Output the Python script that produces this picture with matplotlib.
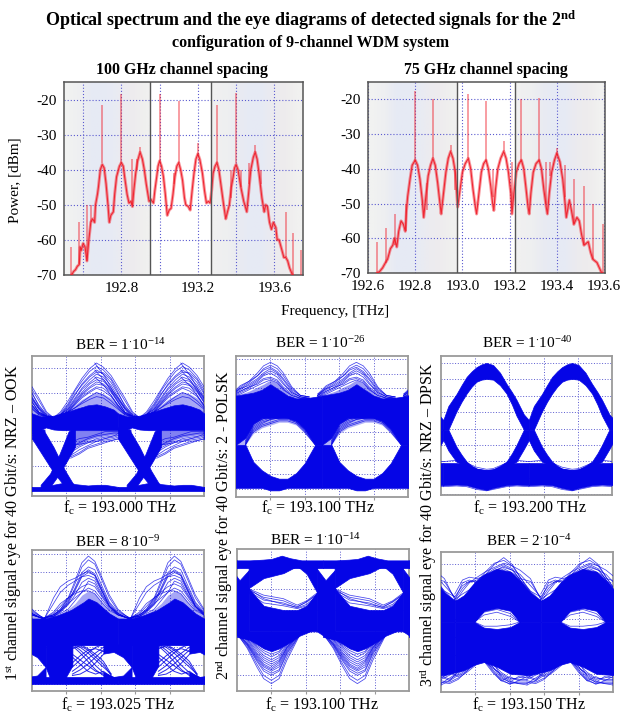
import numpy as np
import matplotlib
matplotlib.use('Agg')
import matplotlib.pyplot as plt
from matplotlib.colors import to_rgb

plt.rcParams['font.family'] = ['Liberation Serif', 'DejaVu Serif']
plt.rcParams['mathtext.fontset'] = 'custom'
plt.rcParams['mathtext.rm'] = 'Liberation Serif'
plt.rcParams['mathtext.it'] = 'Liberation Serif:italic'
plt.rcParams['mathtext.bf'] = 'Liberation Serif:bold'
plt.rcParams['axes.unicode_minus'] = False

RED = '#f01c28'
BLUE = '#0505e6'
GRID = '#5a5ad0'
EDGE = '#9a9a9a'

# ---- spectra, 100 GHz spacing
SPEC1_F = [192.54, 192.55, 192.56, 192.57, 192.58, 192.585, 192.59, 192.6, 192.61, 192.62, 192.63, 192.64,
           192.65, 192.66, 192.665, 192.675, 192.68, 192.69, 192.7, 192.71, 192.72, 192.73, 192.737, 192.745,
           192.758, 192.765, 192.775, 192.79, 192.8, 192.81, 192.817, 192.83, 192.84, 192.85, 192.858, 192.865,
           192.875, 192.885, 192.898, 192.91, 192.92, 192.93, 192.945, 192.955, 192.968, 192.975, 192.985, 192.992,
           193.0, 193.01, 193.02, 193.03, 193.04, 193.05, 193.06, 193.07, 193.08, 193.09, 193.1, 193.11,
           193.12, 193.13, 193.137, 193.15, 193.16, 193.17, 193.18, 193.19, 193.2, 193.21, 193.224, 193.235,
           193.245, 193.255, 193.264, 193.272, 193.28, 193.29, 193.3, 193.31, 193.32, 193.335, 193.346, 193.355,
           193.365, 193.375, 193.385, 193.392, 193.4, 193.41, 193.425, 193.44, 193.456, 193.465, 193.477, 193.49,
           193.5, 193.51, 193.52, 193.535, 193.547, 193.555, 193.564, 193.575, 193.585, 193.595, 193.608, 193.615,
           193.625, 193.64, 193.65, 193.66, 193.67, 193.68, 193.695]
SPEC1_P = [-70, -69, -68.5, -67.5, -67, -62, -63, -61, -62, -66, -60, -55,
           -54, -55, -50, -47, -45, -40, -38.5, -39.5, -44, -50, -55, -53,
           -52, -47, -42, -39, -38, -39, -42, -47, -49.5, -49, -50.5, -46,
           -41, -37.5, -35, -37, -40, -44, -49, -48.5, -49.5, -46, -42, -39,
           -37.5, -39, -42, -47, -53, -51.5, -51, -47, -42, -39, -38, -40,
           -43, -48, -50, -50.5, -51.5, -46, -41, -37, -35.5, -37, -41, -46,
           -49.5, -49, -49.5, -46, -41, -39, -38, -40, -44, -50, -54, -52,
           -50, -45, -42, -39.5, -38.5, -40, -45, -49, -52, -47, -40, -36.5,
           -35, -37, -41, -48, -52, -50, -50.5, -55, -57, -55, -56.5, -60,
           -60, -63, -65, -65, -66, -68, -70]
SPIKE1_F = [192.538, 192.58, 192.618, 192.643, 192.7, 192.8, 192.858, 192.884, 192.9, 193.0, 193.076, 193.1,
            193.2, 193.3, 193.372, 193.4, 193.425, 193.468, 193.5, 193.53, 193.66, 193.7, 193.74]
SPIKE1_TOP = [-62, -55, -50, -50, -21.5, -18.5, -37, -37, -33.5, -18.5, -41, -20.5,
              -32.5, -21.5, -40, -18, -40, -38, -33, -40, -52, -58, -63]
SPIKE1_BASE = [-70, -67, -66, -55, -38, -38, -50, -40, -35, -38, -44, -38,
               -36, -38, -48, -38, -45, -44, -35, -44, -65, -70, -70]

# ---- spectra, 75 GHz spacing
SPEC2_F = [192.64, 192.65, 192.662, 192.67, 192.683, 192.695, 192.705, 192.712, 192.722, 192.73, 192.74, 192.75,
           192.758, 192.763, 192.768, 192.778, 192.787, 192.8, 192.81, 192.82, 192.83, 192.836, 192.845, 192.855,
           192.865, 192.875, 192.885, 192.895, 192.905, 192.91, 192.92, 192.93, 192.94, 192.95, 192.96, 192.97,
           192.98, 192.99, 193.0, 193.012, 193.025, 193.035, 193.045, 193.055, 193.06, 193.07, 193.08, 193.09,
           193.1, 193.11, 193.12, 193.128, 193.133, 193.14, 193.15, 193.162, 193.175, 193.185, 193.195, 193.205,
           193.21, 193.218, 193.228, 193.24, 193.25, 193.26, 193.27, 193.278, 193.283, 193.29, 193.3, 193.312,
           193.325, 193.335, 193.345, 193.355, 193.36, 193.368, 193.378, 193.39, 193.4, 193.413, 193.425, 193.435,
           193.44, 193.453, 193.462, 193.472, 193.485, 193.495, 193.505, 193.515, 193.533, 193.543, 193.552, 193.57,
           193.58, 193.59]
SPEC2_P = [-70, -69.5, -68.5, -67.5, -66, -63, -62, -60, -62.5, -58, -55, -56,
           -58, -52, -48, -43, -39, -37.5, -39, -43, -49, -54, -48, -42,
           -39, -37, -39, -44, -50, -53, -47, -41, -37, -35, -37, -41,
           -51, -46, -41, -38.5, -37, -40, -46, -51, -53, -47, -41, -38.5,
           -37.5, -40, -45, -50, -52, -46, -40, -37, -35, -37, -41, -47,
           -53, -47, -41, -38.5, -37.5, -40, -46, -51, -53, -47, -41, -38.5,
           -37.5, -40, -46, -51, -53, -47, -41, -37.5, -35.5, -38, -43, -50,
           -54, -49, -52, -56, -54, -55, -59, -62, -61, -64, -66, -67,
           -68.5, -70]
SPIKE2_F = [192.637, 192.676, 192.716, 192.76, 192.8, 192.85, 192.875, 192.95, 192.97, 193.025, 193.1, 193.13,
            193.175, 193.208, 193.25, 193.325, 193.356, 193.373, 193.4, 193.434, 193.472, 193.515, 193.555, 193.597]
SPIKE2_TOP = [-61, -57, -53, -50, -17.5, -44, -20, -33, -40, -18.5, -20.5, -40,
              -32, -38, -20, -19.5, -38, -38, -34, -39, -43, -45, -50, -56]
SPIKE2_BASE = [-70, -67, -62, -58, -38, -52, -37, -35, -46, -37, -38, -48,
               -35, -50, -38, -38, -50, -42, -36, -48, -56, -62, -66, -70]

BAND_LEFT = ['#f1f2f1', '#eeeff1', '#e7eaf4', '#e6eaf5', '#e8ebf4', '#ecebf0', '#eeecee', '#f0f0ef']
BAND_RIGHT = ['#f0f0f0', '#eeeff0', '#e9ebf2', '#e6eaf5', '#e7eaf4', '#ecebef', '#eeeced', '#f1f1f0']

SPEC1_X_TICKS = [192.6, 192.8, 193.0, 193.2, 193.4, 193.6]
SPEC1_X_LABELS = ['', '192.8', '', '193.2', '', '193.6']
SPEC2_X_TICKS = [192.6, 192.8, 193.0, 193.2, 193.4, 193.6]
SPEC2_X_LABELS = ['192.6', '192.8', '193.0', '193.2', '193.4', '193.6']
POWER_TICKS = [-20, -30, -40, -50, -60, -70]

# ---- eye 1, 193.000 THz
P1_RAIL_T = [0, .1, .2, .33, .42, .5, .65, .75, .85, 1]
P1_RAIL_LO = [3.5, 3.5, 3.5, 3.5, 3.5, 3.5, 3.5, 3.5, 3.5, 3.5]
P1_RAIL_HI = [6.5, 6.5, 7.5, 9, 10, 8.5, 7.5, 8, 8, 6.5]
P1_MID_T = [0, .1, .16, .25, .35, .45, .55, .65, .75, .85, .95, 1]
P1_MID_LO = [47, 47, 49, 47.5, 47, 47, 47, 47, 47, 47, 47, 47]
P1_MID_HI = [59, 57, 57, 57, 59, 61, 63, 64.8, 65.5, 64, 61.7, 59]
P1_FALL_T = [0, .135, .25, .386, .5]
P1_FALL_LO = [41, 28, 17, 6.4, 6.4]
P1_FALL_HI = [49, 47, 35, 18, 6.4]
P1_RISE_T = [.1, .21, .32, .425, .5]
P1_RISE_LO = [4, 6.5, 16, 27, 35]
P1_RISE_HI = [8, 16, 30, 46, 50]
P1_LOW_T = [.45, .55, .65, .75, .85, .95, 1.05, 1.15]
P1_LOW_LO = [35, 37, 40, 42, 43, 44, 45, 46]
P1_LOW_HI = [47, 47, 47, 47, 47, 47, 47, 47]
P1_LOW_TRACES = [[27, 30, 34, 36, 38, 40, 41, 44.5],
                 [28, 31, 35, 37, 39, 40, 42, 45],
                 [29, 33, 36, 39, 40, 41, 43, 45],
                 [31, 35, 38, 41, 42, 43, 44, 47],
                 [33, 36, 39, 40, 41, 42, 44, 46],
                 [35, 38, 41, 43, 44, 45, 45, 46],
                 [36, 37, 38, 39, 41, 43, 46, 47],
                 [38, 41, 42, 44, 46, 46, 46, 47]]
P1_HUMP_T = [.25, .33, .42, .5, .58, .67, .75, .83, .92, 1.0, 1.08, 1.17, 1.25]
P1_HUMP_LO = [57, 59, 60, 62, 64, 65, 65.5, 64, 62, 59, 57.6, 57, 57]
P1_HUMP_HI = [56, 58, 61, 65, 69, 72, 74, 73, 70, 65, 60, 57, 56]
P1_HUMP_TRACES = [[56, 60, 68, 76, 84, 91, 95, 92, 86, 78, 70, 60, 56],
                  [56, 59, 66, 75, 82, 89, 92.5, 90, 84, 76, 68, 59, 56],
                  [56, 58, 64, 72, 80, 86, 90, 87, 81, 73, 65, 58, 56],
                  [56, 58, 65, 73, 79, 85, 88.5, 88, 83, 74, 64, 58, 56],
                  [56, 58, 63, 70, 77, 83, 87, 85, 79, 71, 63, 57, 56],
                  [56, 58, 62, 69, 76, 81, 85, 83, 77, 70, 63, 57, 56],
                  [56, 58, 62, 68, 74, 80, 83, 82, 76, 69, 62, 57, 56],
                  [56, 57, 61, 67, 73, 78, 81.5, 80, 75, 68, 60, 57, 56],
                  [56, 57, 61, 66, 72, 77, 80, 79, 74, 67, 60, 57, 56],
                  [56, 57, 60, 66, 71, 75, 78, 77, 72, 65, 59, 57, 56],
                  [56, 57, 60, 65, 70, 74, 77, 75, 71, 65, 59, 57, 56],
                  [56, 57, 60, 63, 67, 71, 74, 72, 68, 63, 58, 57, 56],
                  [57, 58, 60, 63, 66, 69, 71, 70, 66, 62, 58, 57, 56]]
P1_TAIL_T = [-.27, -.15, -.05, 0, .08, .15]
P1_TAIL_TRACES = [[95, 85, 74, 70, 62, 57],
                  [90, 82, 72, 67, 60, 57],
                  [85, 78, 69, 64, 59, 56]]
P1_GRID = [91.4, 73.8, 56.4, 39, 21.7, 4.5]

# ---- eye 2, 193.100 THz
P2_T = [0, .11, .2, .3, .4, .5, .6, .7, .8, .92, 1]
P2_TOP_HI = [72, 73, 74, 76, 80, 76, 72, 70, 70, 71, 72]
P2_SOLID_LO = [37, 42, 52, 56, 56, 56, 56, 54, 48, 37, 37]
P2_EYE_TOP = [37, 37, 45, 49, 51, 53, 53, 51, 45, 37, 37]
P2_EYE_BOT = [37, 37, 25, 19, 15, 13, 13, 17, 24, 37, 37]
P2_RAIL_LO = [6.5, 6.5, 6.5, 6.5, 4.7, 4.7, 6.5, 6.5, 6.5, 6.5, 6.5]
P2_HUMP_T = [-.05, .05, .15, .25, .32, .4, .48, .55, .65, .75, .85]
P2_HUMP_LO = [72, 72.5, 73, 75, 76, 80, 77, 74, 71, 70, 70]
P2_HUMP_HI = [72, 73, 75, 78, 80, 83, 81, 77, 72, 70, 70]
P2_HUMP_TRACES = [[72, 78, 82, 88, 93, 95.5, 93, 88, 78, 72, 71],
                  [72, 77, 81, 86, 91, 93.5, 91, 86, 77, 72, 71],
                  [73, 79, 82, 86, 90, 92, 89, 84, 76, 72, 71],
                  [72, 76, 80, 84, 88, 91, 88, 83, 75, 71, 70],
                  [73, 77, 79, 83, 87, 89.5, 87, 81, 74, 71, 70],
                  [72, 75, 78, 82, 86, 88, 85, 80, 74, 71, 70],
                  [71, 74, 77, 81, 84, 85, 83, 78, 73, 70, 70],
                  [71, 75, 78, 80, 83, 84, 82, 77, 72, 70, 70],
                  [71, 73, 76, 79, 81, 83, 81, 76, 72, 70, 70]]
P2_FAN_T = [.11, .2, .3, .4, .5, .6, .7, .8, .92]
P2_FAN_TRACES = [[37, 46, 50, 52, 54, 54, 52, 46, 37],
                 [37, 47, 51, 53, 55, 55, 53, 47, 37],
                 [37, 48, 52, 55, 56, 56, 53, 48, 38],
                 [38, 49, 53, 55, 56, 57, 54, 49, 39],
                 [38, 50, 54, 56, 57, 56, 54, 50, 40],
                 [39, 51, 55, 57, 58, 57, 55, 50, 41],
                 [40, 52, 55, 58, 58, 57, 55, 51, 42]]
P2_GRID = [97.6, 87.5, 77, 67, 56.6, 46.4, 36, 26.5, 16, 5.7]

# ---- eye 3, 193.200 THz
P3_T = [.027, .086, .18, .24, .30, .36, .416, .475, .533, .61, .69, .766, .83, .883, .969, 1.027]
P3_ARCH_HI = [54, 64, 72.5, 79, 85, 89, 92, 94, 95, 93.5, 88, 80, 74, 68.5, 58, 54]
P3_ARCH_LO = [47, 47, 60, 67, 73, 78, 81.5, 83, 83.5, 83, 79, 73, 65, 57, 47, 47]
P3_LEG_HI = [47, 47, 34.8, 29, 24, 21, 19, 18.2, 18, 18.5, 21, 24, 30, 36, 47, 47]
P3_LEG_LO = [39.5, 32, 24, 22, 20, 19, 18, 17, 17, 17, 18, 20, 22, 24, 33, 39.5]
P3_RAIL_T = [.027, .18, .30, .416, .533, .61, .766, .883, 1.027]
P3_RAIL_HI = [23, 23, 22, 19, 18, 18.5, 22, 23, 23]
P3_RAIL_LO = [7, 7.5, 7, 5, 3.6, 5, 7, 7.5, 7]
P3_RAIL_TRACES = [[24, 25, 23, 20, 18.5, 19, 23, 25, 24],
                  [6, 6.5, 6, 4, 3, 4, 6, 6.5, 6]]
P3_GRID = [94.7, 83.2, 71.5, 59.5, 47.5, 36, 24.5, 12.5, 1]

# ---- eye 4, 193.025 THz
P4_RAIL_T = [0, .5, 1]
P4_RAIL_LO = [5, 5, 5]
P4_RAIL_HI = [10, 10, 10]
P4_MID_T = [0, .15, .3, .45, .6, .656, .75, .9, 1]
P4_MID_LO = [32.5, 32.5, 32.5, 32.5, 32.5, 32.5, 32.5, 32.5, 32.5]
P4_MID_HI = [51.4, 51.4, 53.8, 57.3, 63, 65.6, 63, 55, 51.4]
P4_SOLID_T = [.158, .21, .31, .386, .47]
P4_SOLID_LO = [17, 9, 9, 9, 18]
P4_SOLID_HI = [33, 33, 33, 33, 33]
P4_FAN_T = [.47, .56, .65, .74, .83, .92]
P4_FAN_TRACES = [[14, 18, 23, 27, 31, 33],
                 [17, 22, 27, 31, 33, 34],
                 [12, 15, 19, 24, 29, 33],
                 [11, 12, 15, 20, 26, 31],
                 [33, 29, 24, 18, 13, 10],
                 [33, 31, 27, 22, 17, 12],
                 [33, 33, 30, 26, 21, 12],
                 [32, 27, 21, 15, 11, 10],
                 [26, 22, 18, 14, 12, 10],
                 [30, 32, 29, 24, 19, 11],
                 [20, 25, 29, 30, 28, 29],
                 [24, 19, 14, 12, 14, 10]]
P4_EYE_T = [.83, .95, 1.06, 1.158]
P4_EYE_TOP = [26.5, 27.7, 24, 17]
P4_EYE_CAP = [33, 33, 33, 33]
P4_EYE_BOT = [13.5, 10, 11, 17]
P4_EYE_BASE = [8, 8, 8, 8]
P4_HUMP_T = [.15, .25, .33, .42, .5, .58, .656, .73, .81, .9, 1.0, 1.1, 1.16]
P4_HUMP_LO = [50, 50, 50, 50, 50, 50, 50, 50, 50, 50, 50, 50, 50]
P4_HUMP_HI = [52, 53, 55, 58, 62, 68, 71, 69, 63, 57, 54, 52, 51]
P4_HUMP_TRACES = [[52, 66, 74, 78, 80, 83, 85, 82, 72, 60, 55, 52, 51],
                  [52, 62, 70, 75, 78, 81, 82, 80, 71, 60, 55, 52, 51],
                  [52, 54, 58, 66, 78, 91, 95.7, 92, 81, 68, 58, 53, 51],
                  [52, 54, 58, 65, 76, 88, 93, 90, 79, 66, 57, 53, 51],
                  [52, 54, 57, 63, 73, 84, 88, 86, 75, 63, 56, 53, 51],
                  [52, 53, 57, 64, 72, 82, 86, 83, 73, 62, 55, 52, 51],
                  [52, 53, 56, 62, 71, 81, 84, 82, 71, 61, 55, 52, 51],
                  [52, 53, 56, 61, 68, 77, 80, 78, 69, 60, 54, 52, 51],
                  [52, 55, 60, 66, 70, 74, 76, 74, 67, 59, 54, 52, 51],
                  [52, 53, 55, 58, 64, 70, 73, 71, 65, 58, 54, 52, 51],
                  [52, 56, 62, 66, 69, 71, 71, 69, 63, 57, 54, 52, 51],
                  [52, 54, 57, 62, 66, 70, 78, 76, 68, 60, 54, 52, 51]]
P4_GRID = [97.4, 84.4, 71.1, 57.8, 44.3, 31.3, 18.2, 5]

# ---- eye 5, 193.100 THz
P5_RAIL_T = [0, .15, .3, .4, .52, .62, .75, .85, 1]
P5_RAIL_HI = [92, 92, 92.5, 93, 95.3, 93.5, 92, 92, 92]
P5_RAIL_LO = [86.5, 86.5, 86.5, 86.5, 86.5, 86.5, 86.5, 86.5, 86.5]
P5_EYE_T = [.135, .31, .54, .70, .81, .93]
P5_EYE_TOP = [72.4, 79.5, 83, 88, 82.5, 69.5]
P5_EYE_CAP = [88, 88, 88, 90, 88, 88]
P5_EYE_BOT = [72.4, 68, 65.5, 60.8, 64, 69.5]
P5_SOLID_HI = [72.4, 60, 57, 57, 60, 69.5]
P5_SOLID_LO = [42, 42, 42, 42, 42, 42]
P5_UNDER_TRACES = [[72, 67.5, 65, 60.5, 63.5, 69],
                   [71, 66, 63.5, 59.5, 62.5, 68],
                   [70, 64, 62, 58.5, 61, 67],
                   [69, 62, 60, 58, 60, 66],
                   [72, 65, 61, 59, 63, 68]]
P5_NOTCH_T = [.93, 1.03, 1.135]
P5_NOTCH_HI = [86, 78, 85]
P5_NOTCH_LO = [42, 38, 36]
P5_HUMP_T = [0, .12, .23, .31, .4, .49, .58, .73, .85]
P5_HUMP_HI = [42, 42, 42, 42, 42, 42, 42, 42, 43]
P5_HUMP_LO = [38, 37, 33, 30, 28, 30, 33, 39, 42]
P5_HUMP_TRACES = [[40.6, 30, 17, 8.7, 5.2, 8.7, 21.7, 39.4, 43],
                  [40, 31, 19, 11, 7.5, 11, 24, 40, 43],
                  [41, 32, 21, 14, 11, 14, 26, 40, 43],
                  [40, 32.5, 22, 15.5, 12.5, 15, 27, 40, 43],
                  [41, 33, 23, 17, 14, 17, 28, 41, 43],
                  [41, 33.5, 24, 18, 15, 18.5, 29, 41, 43],
                  [41, 34, 25, 19, 16, 20, 30, 41, 43],
                  [42, 35, 26, 20.5, 17.5, 21, 30.5, 41, 43],
                  [42, 36, 27, 22, 19, 22, 31, 41, 43],
                  [42, 36.5, 28.5, 23.5, 20.5, 23.5, 32, 41, 43],
                  [42, 37, 30, 25, 22, 25, 33, 41, 43],
                  [42, 38, 31, 27, 24, 27, 34, 41, 43],
                  [42, 38, 32, 28.5, 26, 28, 35, 41, 43]]
P5_GRID = [87, 71.7, 57, 41.7, 26.4, 11]

# ---- eye 6, 193.150 THz
P6_T = [.16, .264, .388, .5, .65, .806, .915, 1.04, 1.16]
P6_TOP_HI = [65, 69, 78, 84, 88, 86, 80, 71, 65]
P6_EYE_TOP = [50, 50, 50, 57.9, 60, 58, 50, 50, 50]
P6_EYE_BOT = [50, 50, 50, 46, 45, 46.4, 50, 50, 50]
P6_BOT_LO = [14, 15.5, 19.5, 21.4, 18, 13, 12.5, 12, 14]
P6_UP_T = [.16, .25, .33, .42, .52, .62, .73, .83, .92, 1.04, 1.16]
P6_UP_TRACES = [[65, 66, 70, 76, 84, 91, 96, 91, 82, 72, 65],
                [66, 70, 73, 79, 86, 92, 94, 90, 82, 71, 65],
                [66, 74, 79, 80, 84, 88, 91, 88, 80, 70, 65],
                [70, 80, 82, 81, 83, 86, 90, 87, 80, 72, 68],
                [64, 72, 78, 82, 86, 89, 92, 90, 87, 81, 66],
                [68, 76, 79, 79, 82, 87, 89, 87, 84, 76, 68],
                [66, 78, 80, 78, 80, 85, 88, 85, 81, 79, 67]]
P6_DOWN_T = [0, .1, .2, .3, .4, .5, .6, .7, .8, .9, 1]
P6_DOWN_TRACES = [[5, 8, 12, 16, 20, 22, 18, 10, 7, 6, 5],
                  [7, 6, 9, 15, 20, 23, 15, 8, 6, 7, 7],
                  [9, 12, 15, 18, 21, 24, 20, 14, 10, 9, 9],
                  [6, 10, 14, 18, 22, 25, 18, 12, 8, 6, 6],
                  [12, 9, 13, 18, 21, 22, 17, 13, 9, 10, 12],
                  [8, 7, 10, 14, 19, 24, 16, 9, 5.5, 8, 8],
                  [10, 14, 11, 15, 22, 26, 22, 11, 7, 11, 10],
                  [11, 8, 15, 20, 23, 22, 14, 8, 11, 8, 11]]
P6_INNER_T = [.388, .5, .65, .806, .915]
P6_INNER_TRACES = [[50, 55, 57, 54, 50],
                   [50, 57, 59, 56, 50],
                   [50, 47, 47, 48, 50]]
P6_GRID = [91.7, 78.6, 65.5, 52.4, 39.3, 26.2, 13.1]

EYE_X_TICKS = [.4, .8, 1.2, 1.6]

W, H = 622, 715
fig = plt.figure(figsize=(W / 100, H / 100), dpi=100)


def box(x0, y0, x1, y1):
    # axes from pixel edges of the reference
    return fig.add_axes([x0 / W, 1 - y1 / H, (x1 - x0) / W, (y1 - y0) / H])


def label(x, y, s, **kw):
    fig.text(x / W, 1 - y / H, s, ha='center', va='center', **kw)


def shade(ax, f0, f1, colours, ylim):
    rgb = np.array([[to_rgb(c) for c in colours]])
    ax.imshow(rgb, extent=(f0, f1, ylim[0], ylim[1]), aspect='auto', interpolation='bilinear', zorder=0)


def spectrum(ax, f, p, sf, stop, sbase, xlim, bands, seps, xticks, xlabels):
    ylim = (-70, -15)
    shade(ax, xlim[0], seps[0], bands[0], ylim)
    shade(ax, seps[1], xlim[1], bands[1], ylim)
    ax.set_xlim(xlim)
    ax.set_ylim(ylim)
    ax.grid(True, color=GRID, ls=(0, (1, 1.8)), lw=0.8, zorder=1)
    ax.set_axisbelow(True)
    ax.set_xticks(xticks, xlabels, fontsize=11)
    ax.set_yticks(POWER_TICKS)
    ax.tick_params(length=0, labelsize=11, pad=5)
    ax.vlines(sf, sbase, stop, color=RED, lw=1.1, alpha=0.55, zorder=3)
    ax.plot(f, p, color=RED, lw=2.2, alpha=0.45, zorder=4)
    ax.plot(f, p, color=RED, lw=0.8, alpha=0.9, zorder=4)
    for s in seps:
        ax.axvline(s, color='#555555', lw=1.0, zorder=5)
    for sp in ax.spines.values():
        sp.set_color('#555555')
        sp.set_linewidth(1.1)


def eye_axes(x0, y0, x1, y1, grid):
    ax = box(x0, y0, x1, y1)
    ax.set_xlim(0, 2)
    ax.set_ylim(0, 100)
    ax.set_xticks(EYE_X_TICKS, [])
    ax.set_yticks(grid, [])
    ax.grid(True, color=GRID, ls=(0, (1, 1.8)), lw=0.7, zorder=1)
    ax.set_axisbelow(True)
    ax.tick_params(length=2, color=EDGE, width=0.8)
    ax.tick_params(axis='y', length=0)
    for sp in ax.spines.values():
        sp.set_color(EDGE)
        sp.set_linewidth(1.3)
    return ax


def band(ax, t, lo, hi, alpha=1.0):
    # one period of the folded eye, repeated over the two bit slots
    lw = 0.5 if alpha == 1.0 else 0
    for k in (-1, 0, 1, 2):
        ax.fill_between(np.array(t) + k, lo, hi, color=BLUE, alpha=alpha, lw=lw, zorder=3)


def traces(ax, t, rows, lw=0.55, alpha=0.75):
    for row in rows:
        for k in (-1, 0, 1, 2):
            ax.plot(np.array(t) + k, row, color=BLUE, lw=lw, alpha=alpha, zorder=4)


# optical spectra
ax = box(64, 82, 303, 275)
spectrum(ax, SPEC1_F, SPEC1_P, SPIKE1_F, SPIKE1_TOP, SPIKE1_BASE, (192.5, 193.75),
         (BAND_LEFT, BAND_RIGHT), (192.95, 193.27), SPEC1_X_TICKS, SPEC1_X_LABELS)
ax = box(368, 82, 605, 273)
spectrum(ax, SPEC2_F, SPEC2_P, SPIKE2_F, SPIKE2_TOP, SPIKE2_BASE, (192.6, 193.604),
         (BAND_LEFT, BAND_RIGHT), (192.977, 193.223), SPEC2_X_TICKS, SPEC2_X_LABELS)

# eye 1
ax = eye_axes(32, 356, 204, 496, P1_GRID)
band(ax, P1_RAIL_T, P1_RAIL_LO, P1_RAIL_HI)
band(ax, P1_MID_T, P1_MID_LO, P1_MID_HI)
band(ax, P1_FALL_T, P1_FALL_LO, P1_FALL_HI)
band(ax, P1_RISE_T, P1_RISE_LO, P1_RISE_HI)
band(ax, P1_LOW_T, P1_LOW_LO, P1_LOW_HI, alpha=0.5)
band(ax, P1_HUMP_T, P1_HUMP_LO, P1_HUMP_HI, alpha=0.35)
traces(ax, P1_LOW_T, P1_LOW_TRACES)
traces(ax, P1_HUMP_T, P1_HUMP_TRACES)
traces(ax, P1_TAIL_T, P1_TAIL_TRACES)

# eye 2
ax = eye_axes(236, 356, 408, 497, P2_GRID)
band(ax, P2_T, P2_SOLID_LO, P2_TOP_HI)
band(ax, P2_T, P2_EYE_TOP, P2_SOLID_LO, alpha=0.3)
band(ax, P2_T, P2_RAIL_LO, P2_EYE_BOT)
band(ax, P2_HUMP_T, P2_HUMP_LO, P2_HUMP_HI, alpha=0.4)
traces(ax, P2_HUMP_T, P2_HUMP_TRACES)
traces(ax, P2_FAN_T, P2_FAN_TRACES)

# eye 3
ax = eye_axes(441, 356, 612, 495, P3_GRID)
band(ax, P3_T, P3_ARCH_LO, P3_ARCH_HI)
band(ax, P3_T, P3_LEG_LO, P3_LEG_HI)
band(ax, P3_RAIL_T, P3_RAIL_LO, P3_RAIL_HI)
traces(ax, P3_RAIL_T, P3_RAIL_TRACES)

# eye 4
ax = eye_axes(32, 550, 204, 691, P4_GRID)
band(ax, P4_RAIL_T, P4_RAIL_LO, P4_RAIL_HI)
band(ax, P4_MID_T, P4_MID_LO, P4_MID_HI)
band(ax, P4_SOLID_T, P4_SOLID_LO, P4_SOLID_HI)
band(ax, P4_EYE_T, P4_EYE_TOP, P4_EYE_CAP)
band(ax, P4_EYE_T, P4_EYE_BASE, P4_EYE_BOT)
band(ax, P4_HUMP_T, P4_HUMP_LO, P4_HUMP_HI, alpha=0.35)
traces(ax, P4_FAN_T, P4_FAN_TRACES, lw=0.7, alpha=0.85)
traces(ax, P4_HUMP_T, P4_HUMP_TRACES)

# eye 5
ax = eye_axes(237, 549, 409, 691, P5_GRID)
band(ax, P5_RAIL_T, P5_RAIL_LO, P5_RAIL_HI)
band(ax, P5_EYE_T, P5_EYE_TOP, P5_EYE_CAP)
band(ax, P5_EYE_T, P5_SOLID_LO, P5_SOLID_HI)
band(ax, P5_NOTCH_T, P5_NOTCH_LO, P5_NOTCH_HI)
band(ax, P5_HUMP_T, P5_HUMP_LO, P5_HUMP_HI)
traces(ax, P5_EYE_T, P5_UNDER_TRACES)
traces(ax, P5_HUMP_T, P5_HUMP_TRACES)

# eye 6
ax = eye_axes(441, 552, 613, 692, P6_GRID)
band(ax, P6_T, P6_EYE_TOP, P6_TOP_HI)
band(ax, P6_T, P6_BOT_LO, P6_EYE_BOT)
traces(ax, P6_UP_T, P6_UP_TRACES)
traces(ax, P6_DOWN_T, P6_DOWN_TRACES)
traces(ax, P6_INNER_T, P6_INNER_TRACES)

# titles and labels
label(311, 20, r'Optical spectrum and the eye diagrams of detected signals for the 2$^{\mathbf{nd}}$',
      fontsize=13, fontweight='bold')
label(311, 43, 'configuration of 9-channel WDM system', fontsize=11.5, fontweight='bold')
label(182, 70, '100 GHz channel spacing', fontsize=11.4, fontweight='bold')
label(486, 70, '75 GHz channel spacing', fontsize=11.4, fontweight='bold')
label(15, 180, 'Power, [dBm]', fontsize=11, rotation=90)
label(335, 312, 'Frequency, [THz]', fontsize=11)

label(120, 345, r'BER = 1$^{\cdot}$10$^{-14}$', fontsize=11)
label(320, 343, r'BER = 1$^{\cdot}$10$^{-26}$', fontsize=11)
label(527, 343, r'BER = 1$^{\cdot}$10$^{-40}$', fontsize=11)
label(118, 542, r'BER = 8$^{\cdot}$10$^{-9}$', fontsize=11)
label(315, 540, r'BER = 1$^{\cdot}$10$^{-14}$', fontsize=11)
label(529, 541, r'BER = 2$^{\cdot}$10$^{-4}$', fontsize=11)

label(120, 508, r'f$_{\mathrm{c}}$ = 193.000 THz', fontsize=11.5)
label(318, 508, r'f$_{\mathrm{c}}$ = 193.100 THz', fontsize=11.5)
label(530, 508, r'f$_{\mathrm{c}}$ = 193.200 THz', fontsize=11.5)
label(118, 705, r'f$_{\mathrm{c}}$ = 193.025 THz', fontsize=11.5)
label(322, 705, r'f$_{\mathrm{c}}$ = 193.100 THz', fontsize=11.5)
label(529, 705, r'f$_{\mathrm{c}}$ = 193.150 THz', fontsize=11.5)

label(14, 523, '1$^{\\mathrm{st}}$ channel signal eye for 40 Gbit/s: NRZ \u2013 OOK', fontsize=11.5, rotation=90)
label(224, 525, '2$^{\\mathrm{nd}}$ channel signal eye for 40 Gbit/s: 2 - POLSK', fontsize=11.5, rotation=90)
label(428, 525, '3$^{\\mathrm{rd}}$ channel signal eye for 40 Gbit/s: NRZ \u2013 DPSK', fontsize=11.5, rotation=90)

fig.savefig('out.png', dpi=100)
